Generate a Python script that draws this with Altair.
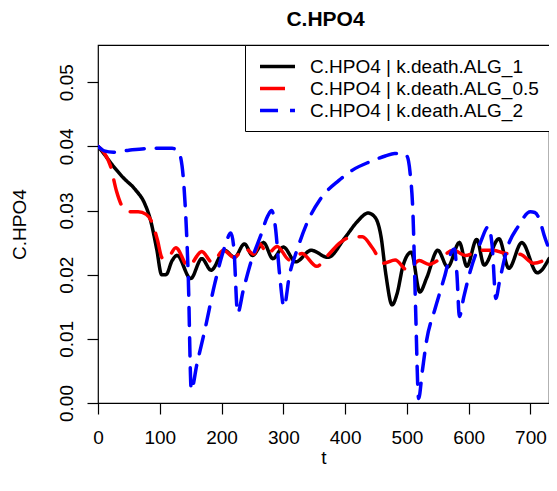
import altair as alt
import pandas as pd

chart_title = "C.HPO4"
series_names = ["C.HPO4 | k.death.ALG_1", "C.HPO4 | k.death.ALG_0.5", "C.HPO4 | k.death.ALG_2"]
colors = ["black", "red", "blue"]

t_alg1 = [0, 10, 20, 40, 60, 75, 85, 95, 103, 110, 120, 128, 150, 168, 183, 205, 221, 237, 250, 268,
          283, 300, 320, 345, 372, 400, 420, 437, 448, 458, 466, 476, 484, 494, 507, 521, 532, 550,
          566, 585, 597, 613, 625, 649, 665, 686, 711, 730]
v_alg1 = [0.0400, 0.0388, 0.0375, 0.0352, 0.0333, 0.0312, 0.0285, 0.0240, 0.0200, 0.0200, 0.0222,
          0.0230, 0.0194, 0.0225, 0.0207, 0.0238, 0.0227, 0.0248, 0.0230, 0.0250, 0.0225, 0.0243,
          0.0220, 0.0238, 0.0227, 0.0258, 0.0283, 0.0296, 0.0290, 0.0260, 0.0200, 0.0153, 0.0170,
          0.0215, 0.0235, 0.0173, 0.0195, 0.0238, 0.0212, 0.0250, 0.0213, 0.0255, 0.0215, 0.0256,
          0.0210, 0.0250, 0.0203, 0.0225]

t_alg05 = [0, 10, 20, 30, 40, 50, 65, 78, 88, 96, 104, 112, 126, 146, 168, 185, 203, 220, 238, 252,
           262, 274, 290, 310, 330, 354, 372, 392, 412, 428, 444, 462, 481, 501, 520, 536, 550, 575,
           595, 620, 640, 660, 683, 705, 730]
v_alg05 = [0.0400, 0.0390, 0.0370, 0.0330, 0.0305, 0.0298, 0.0298, 0.0294, 0.0280, 0.0255, 0.0226,
           0.0225, 0.0242, 0.0213, 0.0236, 0.0219, 0.0238, 0.0227, 0.0241, 0.0232, 0.0248, 0.0232,
           0.0244, 0.0223, 0.0233, 0.0213, 0.0230, 0.0250, 0.0259, 0.0259, 0.0242, 0.0218, 0.0223,
           0.0207, 0.0222, 0.0216, 0.0222, 0.0238, 0.0230, 0.0238, 0.0238, 0.0233, 0.0232, 0.0218,
           0.0226]

t_alg2 = [0, 10, 25, 50, 90, 120, 130, 136, 141, 146, 151, 160, 173, 189, 205, 215, 220, 226, 235,
          247, 263, 275, 281, 287, 294, 301, 310, 322, 338, 360, 390, 412, 440, 465, 480, 492, 500,
          505, 510, 514, 519, 525, 532, 545, 561, 572, 577, 581, 585, 592, 603, 619, 632, 638, 644,
          650, 662, 680, 700, 707, 715, 722, 730]
v_alg2 = [0.0400, 0.0393, 0.0391, 0.0394, 0.0397, 0.0397, 0.0392, 0.0370, 0.0310, 0.0200, 0.0020,
          0.0060, 0.0114, 0.0186, 0.0243, 0.0265, 0.0240, 0.0140, 0.0175, 0.0218, 0.0260, 0.0292,
          0.0300, 0.0275, 0.0200, 0.0150, 0.0200, 0.0238, 0.0280, 0.0318, 0.0347, 0.0363, 0.0376,
          0.0385, 0.0389, 0.0389, 0.0385, 0.0360, 0.0290, 0.0150, 0.0007, 0.0050, 0.0098, 0.0145,
          0.0197, 0.0235, 0.0240, 0.0200, 0.0135, 0.0165, 0.0207, 0.0250, 0.0275, 0.0245, 0.0163,
          0.0190, 0.0240, 0.0275, 0.0298, 0.0297, 0.0285, 0.0262, 0.0240]

x_ticks = [0, 100, 200, 300, 400, 500, 600, 700]
y_ticks = [0.00, 0.01, 0.02, 0.03, 0.04, 0.05]

frames = []
for name, ts, vs in [(series_names[0], t_alg1, v_alg1),
                     (series_names[1], t_alg05, v_alg05),
                     (series_names[2], t_alg2, v_alg2)]:
    frames.append(pd.DataFrame({"t": ts, "value": vs, "series": name}))
df = pd.concat(frames, ignore_index=True)

FONT = "Liberation Sans"
W, H = 451, 358

legend = alt.Legend(
    title=None, orient="top-right", offset=0, padding=10,
    strokeColor="black", fillColor="white", cornerRadius=0,
    symbolType="M-1.84,0H1.84", symbolSize=361, symbolStrokeWidth=3.5,
    symbolOffset=11, labelOffset=21, rowPadding=0,
    labelFont=FONT, labelFontSize=19, labelColor="black", labelLimit=0,
)

color = alt.Color("series:N", scale=alt.Scale(domain=series_names, range=colors), legend=legend)
dash = alt.StrokeDash("series:N", scale=alt.Scale(domain=series_names, range=[[1, 0], [25, 13], [18, 12]]),
                      legend=legend)

x = alt.X("t:Q", scale=alt.Scale(domain=[0, 730], nice=False, zero=False),
          axis=alt.Axis(values=x_ticks, title="t", grid=False, domain=False, tickSize=11,
                        tickColor="black", tickWidth=1.2, labelFont=FONT, labelFontSize=19,
                        labelColor="black", labelPadding=14, labelFlush=False,
                        titleFont=FONT, titleFontSize=19, titleFontWeight="normal",
                        titleColor="black", titleY=60, titleBaseline="alphabetic"))
y = alt.Y("value:Q", scale=alt.Scale(domain=[0, 0.0558], nice=False, zero=False),
          axis=alt.Axis(values=y_ticks, format=".2f", title="C.HPO4", grid=False, domain=False,
                        tickSize=11, tickColor="black", tickWidth=1.2, labelAngle=-90,
                        labelAlign="center", labelBaseline="alphabetic", labelPadding=15,
                        labelFont=FONT, labelFontSize=19, labelColor="black", labelFlush=False,
                        titleFont=FONT, titleFontSize=19, titleFontWeight="normal",
                        titleColor="black", titleX=-73, titleBaseline="alphabetic"))

layers = []
for name in series_names:
    layers.append(
        alt.Chart(df).transform_filter(alt.datum.series == name)
        .mark_line(strokeWidth=3.5, strokeCap="round", strokeJoin="round", clip=True,
                   interpolate="monotone")
        .encode(x=x, y=y, color=color, strokeDash=dash)
    )

title_layer = alt.Chart(pd.DataFrame({"label": [chart_title]})).mark_text(
    font=FONT, fontSize=21, fontWeight="bold", color="black", align="center",
    baseline="alphabetic",
).encode(text="label:N", x=alt.value(W / 2 + 2), y=alt.value(-19))

chart = alt.layer(*layers, title_layer).properties(
    width=W, height=H,
    autosize=alt.AutoSizeParams(type="none"),
    padding={"left": 90, "top": 37, "right": 0, "bottom": 80},
).configure_view(stroke="black", strokeWidth=1.2)

chart.save("out.html", embed_options={"renderer": "svg", "actions": False})
